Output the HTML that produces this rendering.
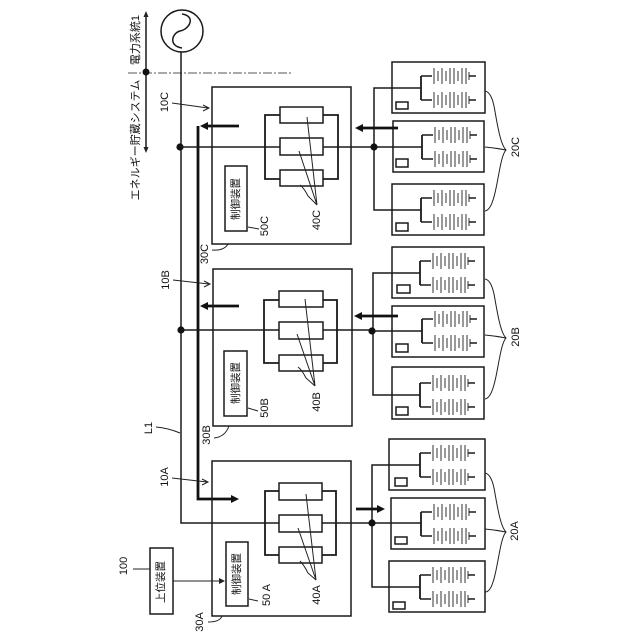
<!DOCTYPE html>
<html>
<head>
<meta charset="utf-8">
<style>
html,body{margin:0;padding:0;background:#fff;width:640px;height:640px;overflow:hidden}
svg{display:block}
text{font-family:"Liberation Sans","Noto Sans CJK JP",sans-serif;font-size:11px;fill:#111;text-anchor:middle;dominant-baseline:central}
text.c{font-size:10.5px}
.s{fill:none;stroke:#1a1a1a;stroke-width:1.5}
.b{fill:none;stroke:#1a1a1a;stroke-width:1.8}
.n{fill:none;stroke:#222;stroke-width:1}
.t{fill:none;stroke:#111;stroke-width:2.8}
</style>
</head>
<body>
<svg width="640" height="640" viewBox="0 0 640 640" xmlns="http://www.w3.org/2000/svg">
<defs>
<g id="row">
  <path d="M0 0H11" class="s"/>
  <path d="M13 -8V8M17 -5V5M21 -8V8M25 -5V5M29 -8V8M33 -8V8M37 -5V5M41 -8V8M45 -8V8" fill="none" stroke="#555" stroke-width="1.2"/>
  <path d="M48 -4V4" fill="none" stroke="#333" stroke-width="1"/>
  <path d="M48 0H55" class="s"/>
</g>
<g id="cells">
  <path d="M0 -12V12" class="b"/>
  <use href="#row" x="0" y="-12"/>
  <use href="#row" x="0" y="12"/>
</g>
</defs>

<!-- AC source -->
<circle cx="182" cy="31" r="21" fill="none" stroke="#1a1a1a" stroke-width="1.5"/>
<path d="M182 48C168 46 172 33 180 31C190 29 196 16 182 14" class="s"/>

<!-- boundary -->
<path d="M128 73H293" fill="none" stroke="#555" stroke-width="1" stroke-dasharray="9 2 2 2"/>
<path d="M146 16V148" class="s"/>
<path d="M146 11l-2.5 6h5zM146 153l-2.5 -6h5z" fill="#222"/>
<circle cx="146" cy="72" r="3.5" fill="#111"/>
<text transform="translate(136 40) rotate(-90)">電力系統1</text>
<text transform="translate(136 140) rotate(-90)">エネルギー貯蔵システム</text>

<!-- L1 main -->
<path d="M181 52V523H372" class="s"/>
<circle cx="180" cy="147" r="3.6" fill="#111"/>
<circle cx="181" cy="330" r="3.6" fill="#111"/>

<!-- thick line -->
<path d="M198 126V499H233" class="t"/>
<path d="M239 126H206" class="t"/>
<path d="M200 126l8 -4v8zM239 499l-8 -4v8z" fill="#111"/>
<path d="M239 306H206" class="t"/>
<path d="M200 306l8 -4v8z" fill="#111"/>

<!-- unit boxes -->
<rect x="212" y="87" width="139" height="157" class="s"/>
<rect x="213" y="269" width="139" height="157" class="s"/>
<rect x="212" y="461" width="139" height="155" class="s"/>

<!-- buses (behind converters) -->
<path d="M180 147H374M181 330H373" class="s"/>

<!-- converters C -->
<path d="M280 115H265V179H280M323 115H338V179H323" class="b"/>
<rect x="280" y="107" width="43" height="16" fill="#fff" stroke="#1a1a1a" stroke-width="1.5"/>
<rect x="280" y="138" width="43" height="17" fill="#fff" stroke="#1a1a1a" stroke-width="1.5"/>
<rect x="280" y="170" width="43" height="16" fill="#fff" stroke="#1a1a1a" stroke-width="1.5"/>
<!-- converters B -->
<path d="M279 300H264V363H279M323 300H337V363H323" class="b"/>
<rect x="279" y="291" width="44" height="16" fill="#fff" stroke="#1a1a1a" stroke-width="1.5"/>
<rect x="279" y="322" width="44" height="17" fill="#fff" stroke="#1a1a1a" stroke-width="1.5"/>
<rect x="279" y="355" width="44" height="16" fill="#fff" stroke="#1a1a1a" stroke-width="1.5"/>
<!-- converters A -->
<path d="M279 491H265V555H279M322 491H336V555H322" class="b"/>
<rect x="279" y="483" width="43" height="17" fill="#fff" stroke="#1a1a1a" stroke-width="1.5"/>
<rect x="279" y="515" width="43" height="17" fill="#fff" stroke="#1a1a1a" stroke-width="1.5"/>
<rect x="279" y="547" width="43" height="16" fill="#fff" stroke="#1a1a1a" stroke-width="1.5"/>

<!-- controllers -->
<rect x="225" y="166" width="22" height="65" class="s"/>
<rect x="224" y="351" width="23" height="65" class="s"/>
<rect x="226" y="542" width="22" height="64" class="s"/>
<text class="c" transform="translate(236 199) rotate(-90)">制御装置</text>
<text class="c" transform="translate(236 383) rotate(-90)">制御装置</text>
<text class="c" transform="translate(237 574) rotate(-90)">制御装置</text>

<!-- upper controller -->
<rect x="150" y="548" width="23" height="66" class="s"/>
<text class="c" transform="translate(161 582) rotate(-90)">上位装置</text>
<path d="M173 581H220" class="n"/>
<path d="M225 581l-6 -3v6z" fill="#222"/>

<!-- battery modules -->
<g class="s">
<rect x="392" y="62" width="93" height="51"/>
<rect x="393" y="121" width="91" height="51"/>
<rect x="392" y="184" width="92" height="51"/>
<rect x="392" y="247" width="92" height="51"/>
<rect x="392" y="306" width="92" height="51"/>
<rect x="392" y="367" width="92" height="52"/>
<rect x="389" y="439" width="96" height="51"/>
<rect x="391" y="498" width="94" height="51"/>
<rect x="389" y="561" width="96" height="51"/>
<rect x="396" y="102" width="12" height="7"/>
<rect x="396" y="159" width="12" height="8"/>
<rect x="396" y="223" width="12" height="8"/>
<rect x="397" y="285" width="13" height="8"/>
<rect x="396" y="344" width="12" height="8"/>
<rect x="396" y="407" width="12" height="8"/>
<rect x="395" y="478" width="12" height="8"/>
<rect x="395" y="537" width="12" height="7"/>
<rect x="393" y="602" width="12" height="7"/>
</g>

<use href="#cells" x="421" y="88"/>
<use href="#cells" x="422" y="147"/>
<use href="#cells" x="421" y="210"/>
<use href="#cells" x="420" y="273"/>
<use href="#cells" x="422" y="331"/>
<use href="#cells" x="420" y="395"/>
<use href="#cells" x="420" y="465"/>
<use href="#cells" x="421" y="524"/>
<use href="#cells" x="420" y="587"/>

<!-- module bus -->
<path d="M421 88H374V210H421M374 147H422" class="s"/>
<path d="M420 273H373V395H420M373 331H422" class="s"/>
<path d="M420 465H372V587H420M372 523H421" class="s"/>
<circle cx="374" cy="147" r="3.6" fill="#111"/>
<circle cx="372" cy="331" r="3.6" fill="#111"/>
<circle cx="372" cy="523" r="3.6" fill="#111"/>

<!-- power arrows -->
<path d="M398 128H362" class="t"/><path d="M355 128l8 -4v8z" fill="#111"/>
<path d="M398 316H361" class="t"/><path d="M354 316l8 -4v8z" fill="#111"/>
<path d="M356 509H378" class="t"/><path d="M385 509l-8 -4v8z" fill="#111"/>

<!-- 10x pointers -->
<path d="M172 103L208 108M203 105L209 108L203 111" class="n"/>
<path d="M173 280L209 284M204 281L210 284L204 287" class="n"/>
<path d="M172 478L207 482M202 479L208 482L202 485" class="n"/>

<!-- leaders -->
<path d="M317 205L307 117M317 205L299 151M317 205L308 196Q304 188 300 185" class="n"/>
<path d="M315 386L305 299M315 386L297 334M315 386L306 378Q302 370 298 367" class="n"/>
<path d="M316 580L306 494M316 580L298 528M316 580L308 573Q304 565 300 561" class="n"/>
<path d="M259 229L248 227M258 411L248 408M258 601L249 599" class="n"/>
<path d="M133 569H150" class="n"/>

<!-- corner curves -->
<path d="M212 250Q224 251 228 244" class="n"/>
<path d="M214 438Q225 437 229 426" class="n"/>
<path d="M208 622Q220 622 222 616" class="n"/>
<path d="M156 427Q168 428 180 433" class="n"/>

<!-- braces -->
<path d="M485 91Q491 92 494 106C497 122 500 144 506 150C500 156 498 186 493 200Q490 210 485 211M485 147Q496 148 506 150" class="n"/>
<path d="M485 279Q491 280 494 294C497 310 500 332 506 338C500 344 498 374 493 388Q490 398 485 399M485 335Q496 336 506 338" class="n"/>
<path d="M485 473Q491 474 494 488C497 504 500 526 506 532C500 538 498 568 493 582Q490 592 485 592M485 529Q496 530 506 532" class="n"/>

<!-- labels -->
<text transform="translate(165 102) rotate(-90)">10C</text>
<text transform="translate(166 280) rotate(-90)">10B</text>
<text transform="translate(165 477) rotate(-90)">10A</text>
<text transform="translate(265 226) rotate(-90)">50C</text>
<text transform="translate(265 408) rotate(-90)">50B</text>
<text transform="translate(267 595) rotate(-90)">50 A</text>
<text transform="translate(317 220) rotate(-90)">40C</text>
<text transform="translate(317 402) rotate(-90)">40B</text>
<text transform="translate(317 595) rotate(-90)">40A</text>
<text transform="translate(516 147) rotate(-90)">20C</text>
<text transform="translate(516 337) rotate(-90)">20B</text>
<text transform="translate(515 531) rotate(-90)">20A</text>
<text transform="translate(205 254) rotate(-90)">30C</text>
<text transform="translate(207 435) rotate(-90)">30B</text>
<text transform="translate(200 622) rotate(-90)">30A</text>
<text transform="translate(124 566) rotate(-90)">100</text>
<text transform="translate(149 428) rotate(-90)">L1</text>
</svg>
</body>
</html>
